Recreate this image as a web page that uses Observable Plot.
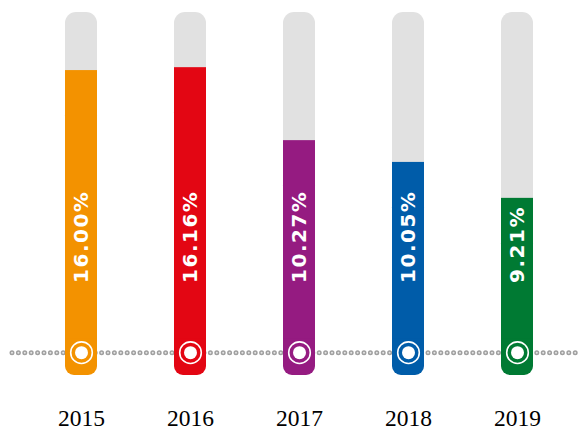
<!DOCTYPE html>
<html>
<head>
<meta charset="utf-8">
<script src="https://cdn.jsdelivr.net/npm/d3@7"></script>
<script src="https://cdn.jsdelivr.net/npm/@observablehq/plot@0.6"></script>
<style>
  html, body { margin: 0; padding: 0; background: #fff; }
</style>
</head>
<body>
<div id="chart"></div>
<script>
const years = ["2015", "2016", "2017", "2018", "2019"];
const values = [16.00, 16.16, 10.27, 10.05, 9.21];
const labels = ["16.00%", "16.16%", "10.27%", "10.05%", "9.21%"];
// fill level of each thermometer (percent of the track)
const fillLevels = [84.0, 84.8, 64.7, 58.7, 48.8];
const colors = ["#F39200", "#E30613", "#951B81", "#005CA9", "#007A33"];
const trackMax = 100;
const baselineLevel = 6.3;
const labelLevel = 25.5;

const data = years.map((y, i) => ({
  year: y, value: values[i], label: labels[i], fill: fillLevels[i], color: colors[i]
}));

const chart = Plot.plot({
  width: 578,
  height: 431,
  marginLeft: 12,
  marginRight: 0,
  marginTop: 12,
  marginBottom: 56,
  x: {domain: years, range: [25, 573], paddingInner: 0.708, paddingOuter: 0.354, label: null},
  y: {domain: [0, trackMax], axis: null},
  color: {type: "identity"},
  marks: [
    // dotted baseline
    Plot.ruleY([baselineLevel], {stroke: "#a0a0a0", strokeWidth: 5, strokeDasharray: "0 6.4", strokeLinecap: "round"}),
    Plot.ruleY([baselineLevel], {stroke: "#e6e6e6", strokeWidth: 2, strokeDasharray: "0 6.4", strokeLinecap: "round"}),
    // gray track
    Plot.barY(data, {x: "year", y1: 0, y2: trackMax, fill: "#e1e1e1", rx: 11}),
    // coloured fill: rounded bottom + square top
    Plot.barY(data, {x: "year", y1: 0, y2: d => d.fill - 10, fill: "color", rx: 9}),
    Plot.barY(data, {x: "year", y1: 10, y2: "fill", fill: "color"}),
    // bulb rings
    Plot.dot(data, {x: "year", y: baselineLevel, r: 10.8, stroke: "white", strokeWidth: 1.6, fill: "none"}),
    Plot.dot(data, {x: "year", y: baselineLevel, r: 6.5, fill: "white"}),
    // value labels
    Plot.text(data, {
      x: "year", y: labelLevel, text: "label", rotate: -90, textAnchor: "start",
      fill: "white", fontSize: 20, fontWeight: "bold", fontFamily: "DejaVu Sans"
    }),
    Plot.axisX({
      tickSize: 0, tickPadding: 33.5, fontSize: 23.5, fontFamily: "Liberation Serif",
      fill: "#000", label: null
    })
  ]
});
d3.select(chart).selectAll('g[aria-label="text"] text').style("letter-spacing", "1.5px");
document.getElementById("chart").appendChild(chart);
</script>
</body>
</html>
